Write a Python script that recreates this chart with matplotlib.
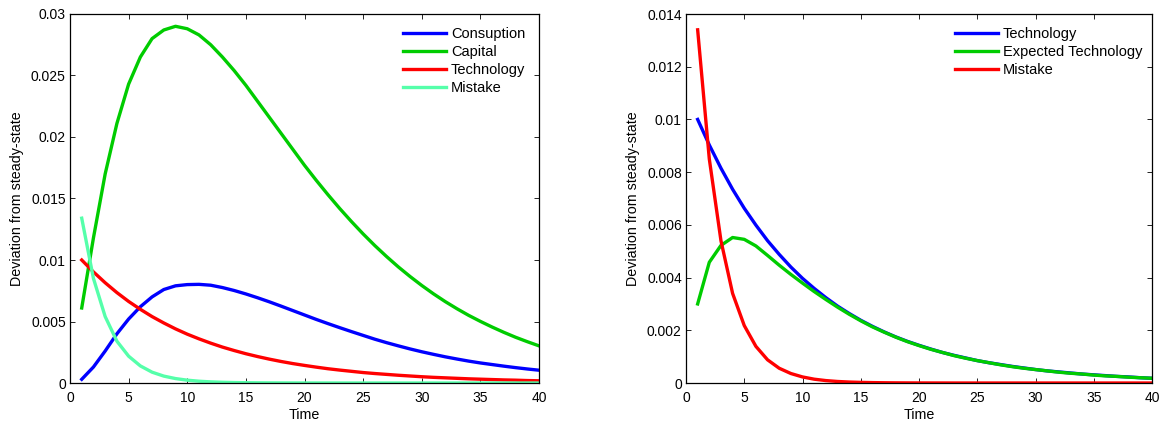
import matplotlib
matplotlib.use("Agg")
import matplotlib.pyplot as plt
from matplotlib.ticker import FuncFormatter

plt.rcParams['font.family'] = ['Liberation Sans', 'DejaVu Sans']
plt.rcParams['font.size'] = 10

time = list(range(1, 41))

# impulse responses, left panel
consumption = [0.0003, 0.0013, 0.0026, 0.0040, 0.0052, 0.0062, 0.0070, 0.0076, 0.0079, 0.0080,
               0.00802, 0.00795, 0.00776, 0.00752, 0.00724, 0.00693, 0.00660, 0.00625, 0.00589, 0.00553,
               0.00517, 0.00483, 0.00450, 0.00418, 0.00387, 0.00356, 0.00328, 0.00302, 0.00277, 0.00254,
               0.00233, 0.00213, 0.00195, 0.00178, 0.00163, 0.00150, 0.00137, 0.00125, 0.00114, 0.00104]
capital = [0.0061, 0.0118, 0.0170, 0.0211, 0.0243, 0.0265, 0.0280, 0.0287, 0.0290, 0.0288,
           0.0283, 0.0275, 0.0265, 0.0254, 0.0242, 0.0229, 0.0216, 0.0203, 0.0190, 0.0177,
           0.01648, 0.01531, 0.01419, 0.01313, 0.01212, 0.01117, 0.01028, 0.00944, 0.00866, 0.00793,
           0.00725, 0.00662, 0.00604, 0.00550, 0.00501, 0.00455, 0.00412, 0.00372, 0.00336, 0.00302]
technology = [0.0100, 0.00903, 0.00815, 0.00735, 0.00663, 0.00599, 0.00540, 0.00488, 0.00440, 0.00397,
              0.00359, 0.00324, 0.00292, 0.00264, 0.00238, 0.00215, 0.00194, 0.00175, 0.00158, 0.00143,
              0.00129, 0.00116, 0.00105, 0.00095, 0.00085, 0.00077, 0.00070, 0.00063, 0.00057, 0.00051,
              0.00046, 0.00042, 0.00038, 0.00034, 0.00031, 0.00028, 0.00025, 0.00023, 0.00020, 0.00018]
mistake = [0.0134, 0.0085, 0.0054, 0.0034, 0.00218, 0.00139, 0.00088, 0.00056, 0.00036, 0.00023,
           0.000145, 0.000092, 0.000058, 0.000037, 0.000024, 0.000015, 0.0000095, 0.000006, 0.0000038, 0.0000024,
           0.0000015, 0.000001, 0.0, 0.0, 0.0, 0.0, 0.0, 0.0, 0.0, 0.0,
           0.0, 0.0, 0.0, 0.0, 0.0, 0.0, 0.0, 0.0, 0.0, 0.0]

# right panel: signal extraction
expected_technology = [0.00300, 0.00458, 0.00522, 0.00552, 0.00545, 0.00520, 0.00484, 0.00447, 0.00412, 0.00379,
                       0.00347, 0.00317, 0.00288, 0.00261, 0.00236, 0.00213, 0.00193, 0.00174, 0.00157, 0.00142,
                       0.00128, 0.00116, 0.00104, 0.00094, 0.00085, 0.00077, 0.00069, 0.00062, 0.00056, 0.00051,
                       0.00046, 0.00041, 0.00037, 0.00034, 0.00030, 0.00027, 0.00025, 0.00022, 0.00020, 0.00018]

left_labels = ['Consuption', 'Capital', 'Technology', 'Mistake']
right_labels = ['Technology', 'Expected Technology', 'Mistake']

blue = '#0000ff'
green = '#00cc00'
red = '#ff0000'
aqua = '#55ffaa'

fig = plt.figure(figsize=(11.68, 4.23), dpi=100)
ax1 = fig.add_axes([70 / 1168, 40 / 423, 469 / 1168, 369 / 423])
ax2 = fig.add_axes([686 / 1168, 40 / 423, 466 / 1168, 369 / 423])

lw = 2.4
ax1.plot(time, consumption, color=blue, lw=lw, label=left_labels[0])
ax1.plot(time, capital, color=green, lw=lw, label=left_labels[1])
ax1.plot(time, technology, color=red, lw=lw, label=left_labels[2])
ax1.plot(time, mistake, color=aqua, lw=lw, label=left_labels[3])

ax2.plot(time, technology, color=blue, lw=lw, label=right_labels[0])
ax2.plot(time, expected_technology, color=green, lw=lw, label=right_labels[1])
ax2.plot(time, mistake, color=red, lw=lw, label=right_labels[2])

fmt = FuncFormatter(lambda v, pos: '%g' % round(v, 6))

for ax, top, step, lx in [(ax1, 0.03, 0.005, 0.682), (ax2, 0.014, 0.002, 0.549)]:
    ax.set_xlim(0, 40)
    ax.set_ylim(0, top)
    ax.set_xticks(range(0, 41, 5))
    n = int(round(top / step))
    ax.set_yticks([i * step for i in range(n + 1)])
    ax.yaxis.set_major_formatter(fmt)
    ax.tick_params(direction='in', length=3.5, width=0.6, top=True, right=True,
                   labelsize=10, colors='black')
    ax.tick_params(axis='x', pad=5.5)
    ax.tick_params(axis='y', pad=3)
    for s in ax.spines.values():
        s.set_linewidth(0.9)
    ax.set_xlabel('Time', fontsize=10.3, labelpad=2.5)
    ax.set_ylabel('Deviation from steady-state', fontsize=10.3, labelpad=5)
    ax.legend(loc='upper left', bbox_to_anchor=(lx, 1.0),
              frameon=False, fontsize=10.5, handlelength=2.95, handletextpad=0.34,
              labelspacing=0.28, borderpad=0.9, borderaxespad=0.0)

fig.savefig('out.png', dpi=100)
